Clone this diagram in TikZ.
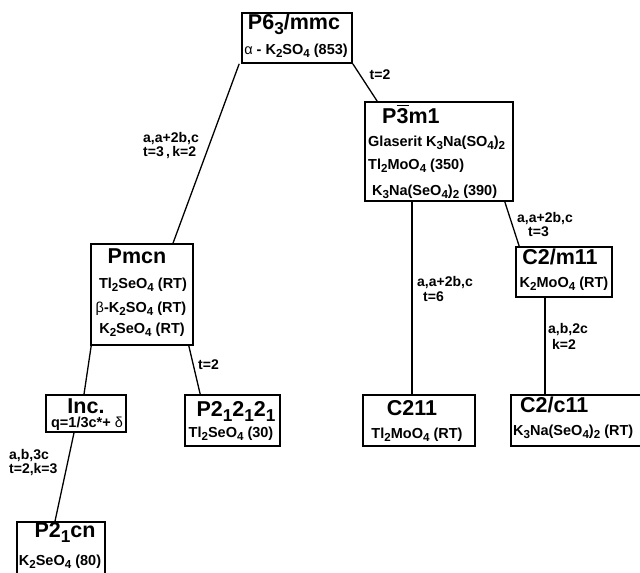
\documentclass[tikz,border=0pt]{standalone}
\usepackage{fontspec}
\setmainfont{Liberation Sans}
\usepackage{graphicx}
\newcommand\dn[1]{\raisebox{-0.45ex}{\scalebox{0.8}{#1}}}
\newcommand\ovl[1]{\sbox0{#1}\rlap{\rule[\dimexpr\ht0+1.8pt\relax]{\wd0}{1.3pt}}\usebox0}
\tikzset{
 box/.style={draw, line width=1.6pt, inner sep=0pt},
 ttl/.style={font=\fontsize{21.5}{25}\selectfont\bfseries, inner sep=0pt, anchor=base},
 ttlw/.style={ttl, anchor=base west},
 sub/.style={font=\fontsize{14.5}{17}\selectfont\bfseries, inner sep=0pt, anchor=base},
 subw/.style={sub, anchor=base west},
 lbl/.style={font=\fontsize{14}{16}\selectfont\bfseries, inner sep=0pt, anchor=base west},
 conn/.style={line width=1.3pt},
}
\begin{document}
\begin{tikzpicture}[x=1pt,y=-1pt]
\clip (0,0) rectangle (640,573);
\fill[white] (0,0) rectangle (640,573);
% boxes
\node[box, minimum width=110pt, minimum height=50pt] (p6) at (297,38) {};
\node[box, minimum width=148pt, minimum height=99pt] (p3m1) at (439,151.5) {};
\node[box, minimum width=102pt, minimum height=101pt] (pmcn) at (142,294.5) {};
\node[box, minimum width=80pt, minimum height=37pt] (inc) at (86,413.5) {};
\node[box, minimum width=95pt, minimum height=51pt] (p212121) at (232.5,420.5) {};
\node[box, minimum width=112pt, minimum height=51pt] (c211) at (419,420.5) {};
\node[box, minimum width=134pt, minimum height=51pt] (c2c11) at (578,420.5) {};
\node[box, minimum width=96pt, minimum height=50pt] (c2m11) at (564,272) {};
\node[box, minimum width=88pt, minimum height=58pt] (p21cn) at (61,551) {};
% texts
\node[ttl] (p6t) at (294,29) {P6\dn{3}/mmc};
\node[sub] (p6s) at (296,54) {\textmd{α} - K\dn{2}SO\dn{4} (853)};
\node[ttlw] (p3t) at (382,123) {P\ovl{3}m1};
\node[subw] (p3s1) at (368,146) {Glaserit K\dn{3}Na(SO\dn{4})\dn{2}};
\node[subw] (p3s2) at (368,169) {Tl\dn{2}MoO\dn{4} (350)};
\node[subw] (p3s3) at (372,195) {K\dn{3}Na(SeO\dn{4})\dn{2} (390)};
\node[ttl] (pmt) at (137,263) {Pmcn};
\node[sub] (pms1) at (143,288) {Tl\dn{2}SeO\dn{4} (RT)};
\node[sub] (pms2) at (141,312) {\textmd{β}-K\dn{2}SO\dn{4} (RT)};
\node[sub] (pms3) at (142,333) {K\dn{2}SeO\dn{4} (RT)};
\node[ttl] (inct) at (86,413) {Inc.};
\node[sub] (incs) at (87,427) {q=1/3c*+ \textmd{δ}};
\node[ttl] (p2t) at (236,416) {P2\dn{1}2\dn{1}2\dn{1}};
\node[sub] (p2s) at (231,437) {Tl\dn{2}SeO\dn{4} (30)};
\node[ttl] (c211t) at (412,415) {C211};
\node[sub] (c211s) at (417,438) {Tl\dn{2}MoO\dn{4} (RT)};
\node[ttlw] (c2ct) at (520,412) {C2/c11};
\node[subw] (c2cs) at (513,435) {K\dn{3}Na(SeO\dn{4})\dn{2} (RT)};
\node[ttl] (c2mt) at (560,264) {C2/m11};
\node[sub] (c2ms) at (564,287) {K\dn{2}MoO\dn{4} (RT)};
\node[ttl] (p21t) at (65,537) {P2\dn{1}cn};
\node[sub] (p21s) at (60,565) {K\dn{2}SeO\dn{4} (80)};
% connectors
\draw[conn] ([xshift=-2pt]p6.south west) -- ([xshift=31pt]pmcn.north);
\draw[conn] (p6.south east) -- ([xshift=13pt]p3m1.north west);
\draw[conn] ([xshift=-27pt]p3m1.south) -- ([xshift=-27pt]p3m1.south |- c211.north);
\draw[conn] ([xshift=-9pt]p3m1.south east) -- ([xshift=4pt]c2m11.north west);
\draw[conn] ([xshift=-19pt]c2m11.south) -- ([xshift=-19pt]c2m11.south |- c2c11.north);
\draw[conn] ([xshift=1pt]pmcn.south west) -- ([xshift=-2pt]inc.north);
\draw[conn] ([xshift=-5pt]pmcn.south east) -- ([xshift=16pt]p212121.north west);
\draw[conn] ([xshift=-12pt]inc.south) -- ([xshift=-6pt]p21cn.north);
% labels
\node[lbl] (l1a) at (143,142) {a,a+2b,c};
\node[lbl] (l1b) at (143,156) {t=3\,,\,k=2};
\node[lbl, anchor=base] (l2) at (380,79) {t=2};
\node[lbl] (l3a) at (417,286) {a,a+2b,c};
\node[lbl] (l3b) at (423,301) {t=6};
\node[lbl] (l4a) at (517,222) {a,a+2b,c};
\node[lbl] (l4b) at (528,236) {t=3};
\node[lbl] (l5a) at (548,333) {a,b,2c};
\node[lbl] (l5b) at (552,349) {k=2};
\node[lbl] (l6) at (198,369) {t=2};
\node[lbl] (l7a) at (9,459) {a,b,3c};
\node[lbl] (l7b) at (9,473) {t=2,k=3};
\end{tikzpicture}
\end{document}
